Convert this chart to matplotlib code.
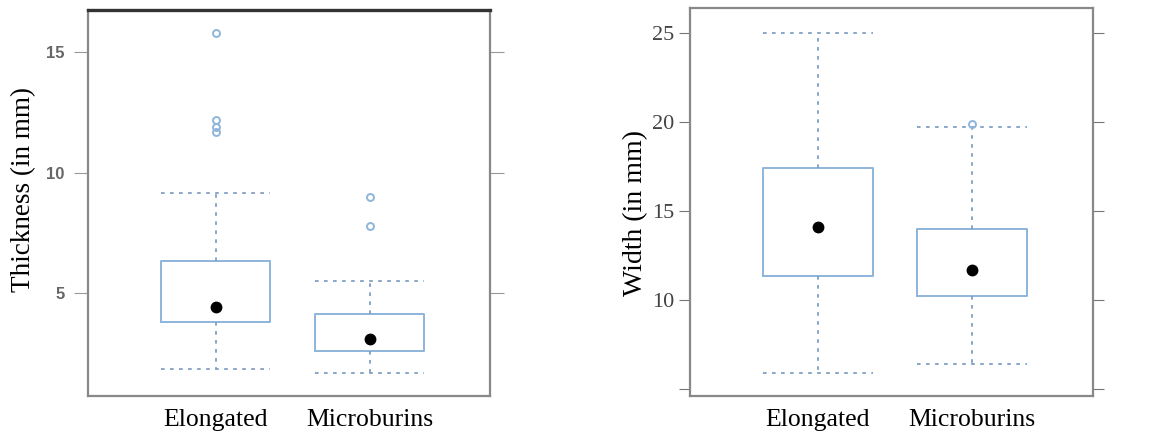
import numpy as np
import matplotlib.pyplot as plt

categories = ['Elongated', 'Microburins']

# thickness (mm) five-number summaries + outliers
thick_q1 = [3.8, 2.6]
thick_med = [4.42, 3.1]
thick_q3 = [6.35, 4.13]
thick_lo = [1.85, 1.7]
thick_hi = [9.15, 5.5]
thick_out = [[15.8, 12.2, 11.9, 11.7], [9.0, 7.8]]

# width (mm)
width_q1 = [11.35, 10.2]
width_med = [14.1, 11.7]
width_q3 = [17.4, 14.0]
width_lo = [5.9, 6.4]
width_hi = [25.0, 19.7]
width_out = [[], [19.9]]

box_col = '#8db6da'
whisk_col = '#7f9fc4'
serif = 'Liberation Serif'

fig = plt.figure(figsize=(11.5, 4.36), dpi=100)
ax1 = fig.add_axes([0.0765, 0.0917, 0.3495, 0.885])
ax2 = fig.add_axes([0.600, 0.0917, 0.350, 0.890])


def draw(ax, q1, med, q3, lo, hi, outs):
    stats = []
    for i in range(len(categories)):
        stats.append(dict(med=med[i], q1=q1[i], q3=q3[i], whislo=lo[i], whishi=hi[i],
                          fliers=outs[i], label=categories[i]))
    ax.bxp(stats, positions=[1, 2], widths=0.71, showfliers=True,
           boxprops=dict(color=box_col, linewidth=1.4),
           whiskerprops=dict(color=whisk_col, linewidth=1.3, linestyle=(0, (2, 3))),
           capprops=dict(color=whisk_col, linewidth=1.3, linestyle=(0, (2, 3))),
           capwidths=0.71,
           medianprops=dict(linewidth=0),
           flierprops=dict(marker='o', markerfacecolor='none', markeredgecolor=box_col,
                           markersize=5, markeredgewidth=1.4))
    ax.plot([1, 2], med, 'o', color='black', markersize=7.5, zorder=5)
    ax.set_xlim(0.17, 2.78)
    ax.set_xticks([1, 2])
    ax.set_xticklabels(categories, fontsize=18.5, family=serif)
    ax.tick_params(axis='x', length=0, pad=9)
    ax.tick_params(axis='y', direction='out', right=True, color='#777777', length=9)
    for s in ax.spines.values():
        s.set_color('#888888')
        s.set_linewidth(1.6)


draw(ax1, thick_q1, thick_med, thick_q3, thick_lo, thick_hi, thick_out)
ax1.set_ylim(0.73, 16.75)
ax1.set_yticks([5, 10, 15])
ax1.set_yticklabels(['5', '10', '15'], fontsize=12, color='#666666',
                    family='Liberation Sans', fontweight='bold')
ax1.tick_params(axis='y', pad=7, length=10)
ax1.tick_params(axis='y', which='both', right=True, color='#999999')
ax1.spines['top'].set_color('#333333')
ax1.spines['top'].set_linewidth(2.4)
ax1.set_ylabel('Thickness (in mm)', fontsize=19.5, family=serif)
ax1.yaxis.set_label_coords(-0.128, 0.534)

draw(ax2, width_q1, width_med, width_q3, width_lo, width_hi, width_out)
ax2.set_ylim(4.6, 26.4)
ax2.set_yticks([5, 10, 15, 20, 25])
ax2.set_yticklabels(['', '10', '15', '20', '25'], fontsize=16, color='#444444', family=serif)
ax2.tick_params(axis='y', length=8, pad=3)
ax2.set_ylabel('Width (in mm)', fontsize=20, family=serif)
ax2.yaxis.set_label_coords(-0.104, 0.472)

fig.savefig('out.png', dpi=100)
